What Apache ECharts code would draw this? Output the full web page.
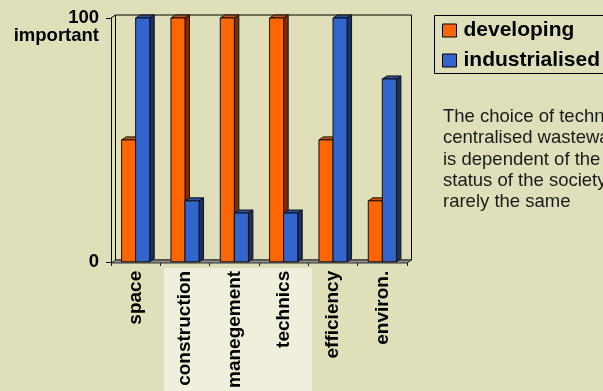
<!DOCTYPE html>
<html><head><meta charset="utf-8">
<script src="https://cdn.jsdelivr.net/npm/echarts@6/dist/echarts.min.js"></script>
<style>html,body{margin:0;padding:0;background:#DFDFB9;overflow:hidden}#c{width:603px;height:391px}</style>
</head><body><div id="c"></div>
<script>
const categories = ['space', 'construction', 'manegement', 'technics', 'efficiency', 'environ.'];
const developing = [50, 100, 100, 100, 50, 25];
const industrialised = [100, 25, 20, 20, 100, 75];
const yTicks = [0, 100];
const yTopCaption = 'important';
const noteLines = [
  'The choice of technology for',
  'centralised wastewater treatment',
  'is dependent of the economic',
  'status of the society and is',
  'rarely the same'
];

const FONT = '"Liberation Sans", Arial, Helvetica, sans-serif';
const W = 603, H = 391;
const G = { left: 111, top: 18, right: 196, bottom: 128 };
const gx0 = G.left, gx1 = W - G.right, gy0 = G.top, gy1 = H - G.bottom;
const DX = 4.5, DY = 3;

function make3D(side, cFront, cSide, cTop) {
  return function (params, api) {
    const c = api.coord([api.value(0), api.value(1)]);
    const b = api.coord([api.value(0), 0]);
    const band = api.size([1, 0])[0];
    const w = band * 0.285;
    const x0 = side < 0 ? c[0] - w : c[0];
    const x1 = x0 + w;
    const yt = c[1], yb = b[1];
    const st = { stroke: '#111', lineWidth: 1 };
    return {
      type: 'group',
      children: [
        { type: 'polygon', shape: { points: [[x1, yt], [x1 + DX, yt - DY], [x1 + DX, yb - DY], [x1, yb]] }, style: Object.assign({ fill: cSide }, st) },
        { type: 'polygon', shape: { points: [[x0, yt], [x0 + DX, yt - DY], [x1 + DX, yt - DY], [x1, yt]] }, style: Object.assign({ fill: cTop }, st) },
        { type: 'rect', shape: { x: x0, y: yt, width: w, height: yb - yt }, style: Object.assign({ fill: cFront }, st) }
      ]
    };
  };
}

const chart = echarts.init(document.getElementById('c'), null, { renderer: 'canvas' });
chart.setOption({
  backgroundColor: '#DFDFB9',
  animation: false,
  textStyle: { fontFamily: FONT },
  grid: { left: G.left, top: G.top, right: G.right, bottom: G.bottom, containLabel: false },
  legend: {
    orient: 'vertical', left: 434, top: 15,
    padding: [5, 0, 3, 8], itemGap: 9, itemWidth: 14, itemHeight: 13,
    borderWidth: 0, icon: 'rect',
    textStyle: { fontSize: 21, fontWeight: 'bold', color: '#000', fontFamily: FONT, padding: [0, 0, 0, 2] },
    data: [
      { name: 'developing', itemStyle: { color: '#FF6600', borderColor: '#000', borderWidth: 1 } },
      { name: 'industrialised', itemStyle: { color: '#3366CC', borderColor: '#000', borderWidth: 1 } }
    ]
  },
  xAxis: {
    type: 'category', data: categories,
    axisLine: { lineStyle: { color: '#000', width: 1 } },
    axisTick: { show: true, length: 4, lineStyle: { color: '#000' } },
    axisLabel: { rotate: 90, margin: 9, interval: 0, fontSize: 19, fontWeight: 'bold', color: '#000', fontFamily: FONT }
  },
  yAxis: {
    type: 'value', min: yTicks[0], max: yTicks[1], interval: yTicks[1] - yTicks[0],
    splitLine: { show: false },
    axisLine: { show: true, lineStyle: { color: '#000', width: 1 } },
    axisTick: { show: true, length: 5, lineStyle: { color: '#000' } },
    axisLabel: { margin: 12, fontSize: 18.5, fontWeight: 'bold', color: '#000', fontFamily: FONT }
  },
  graphic: [
    { type: 'rect', silent: true, z: -10, shape: { x: 164, y: gy1 + 5, width: 148, height: H - gy1 - 5 }, style: { fill: '#EFEFDC' } },
    { type: 'rect', silent: true, z: 0, shape: { x: gx0 + DX, y: gy0 - DY, width: gx1 - gx0, height: gy1 - gy0 }, style: { fill: 'none', stroke: '#000', lineWidth: 1 } },
    { type: 'line', silent: true, z: 0, shape: { x1: gx0, y1: gy0, x2: gx0 + DX, y2: gy0 - DY }, style: { stroke: '#000', lineWidth: 1 } },
    { type: 'polygon', silent: true, z: 1, shape: { points: [[gx0, gy1], [gx1, gy1], [gx1 + DX, gy1 - DY], [gx0 + DX, gy1 - DY]] }, style: { fill: '#8C8C8C', stroke: '#333', lineWidth: 1 } },
    { type: 'rect', silent: true, z: 0, shape: { x: 434.5, y: 15.5, width: 220, height: 58 }, style: { fill: 'none', stroke: '#000', lineWidth: 1 } },
    { type: 'text', silent: true, z: 5, style: { x: 99, y: 36, text: yTopCaption, align: 'right', verticalAlign: 'middle', font: 'bold 18.5px ' + FONT, fill: '#000' } },
    { type: 'text', silent: true, z: 5, style: { x: 443, y: 106, text: noteLines.join('\n'), align: 'left', verticalAlign: 'top', font: '18.5px ' + FONT, lineHeight: 21.4, fill: '#1a1a1a' } }
  ],
  series: [
    { name: 'developing', type: 'custom', itemStyle: { color: '#FF6600' }, encode: { x: 0, y: 1 },
      data: developing.map((v, i) => [i, v]), renderItem: make3D(-1, '#FF6600', '#7F2E00', '#CC5200'), z: 2 },
    { name: 'industrialised', type: 'custom', itemStyle: { color: '#3366CC' }, encode: { x: 0, y: 1 },
      data: industrialised.map((v, i) => [i, v]), renderItem: make3D(1, '#3366CC', '#1C2F5E', '#2A52A3'), z: 3 }
  ]
});
</script></body></html>
